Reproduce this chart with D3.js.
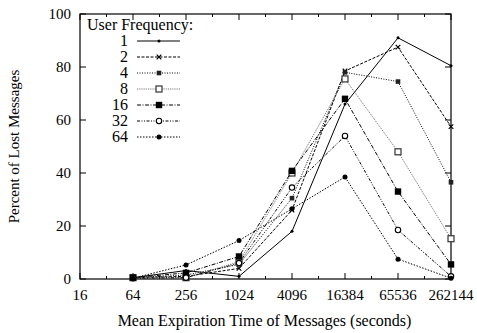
<!DOCTYPE html>
<html>
<head>
<meta charset="utf-8">
<script src="https://cdn.jsdelivr.net/npm/d3@7"></script>
<style>
  body { margin: 0; background: #fff; }
  text { font-family: "Liberation Serif", "DejaVu Serif", serif; fill: #000; }
</style>
</head>
<body>
<svg id="chart"></svg>
<script>
// expiration times (x), one value per series
const times = [64, 256, 1024, 4096, 16384, 65536, 262144];
const xTicks = [16, 64, 256, 1024, 4096, 16384, 65536, 262144];
const yTicks = [0, 20, 40, 60, 80, 100];

const freq1 = [0.5, 3.2, 1, 18, 66, 91, 80.5];
const freq2 = [0.5, 1, 4, 26, 78.5, 87.5, 57.5];
const freq4 = [0.5, 1.5, 5.5, 30.5, 78, 74.5, 36.5];
const freq8 = [0.5, 0.5, 6.5, 40, 75.5, 48, 15.2];
const freq16 = [0.5, 2.3, 8.5, 40.8, 68, 33, 5.5];
const freq32 = [0.3, 0.5, 6, 34.5, 54, 18.5, 1];
const freq64 = [0.3, 5.3, 14.5, 26.5, 38.5, 7.5, 0.3];

const labels = ['1', '2', '4', '8', '16', '32', '64'];

const series = [
  { name: labels[0], values: freq1, dash: null, stroke: '#000', marker: 'plus' },
  { name: labels[1], values: freq2, dash: '3,1.5', stroke: '#000', marker: 'x' },
  { name: labels[2], values: freq4, dash: '1,1.5', stroke: '#000', marker: 'smallsq' },
  { name: labels[3], values: freq8, dash: '1.2,1', stroke: '#777', marker: 'opensq' },
  { name: labels[4], values: freq16, dash: '4,1.5,1,1.5', stroke: '#000', marker: 'sq' },
  { name: labels[5], values: freq32, dash: '3,1.5,1,1.5,1,1.5', stroke: '#000', marker: 'opencirc' },
  { name: labels[6], values: freq64, dash: '1.5,1.5', stroke: '#000', marker: 'circ' }
];

const width = 477, height = 333;
const m = { left: 80, right: 26, top: 14, bottom: 54 };

const svg = d3.select('#chart').attr('width', width).attr('height', height);

const x = d3.scaleLog().base(2).domain([16, 262144]).range([m.left, width - m.right]);
const y = d3.scaleLinear().domain([0, 100]).range([height - m.bottom, m.top]);

const g = svg.append('g');

// frame
g.append('rect')
  .attr('x', m.left).attr('y', m.top)
  .attr('width', width - m.left - m.right)
  .attr('height', height - m.top - m.bottom)
  .attr('fill', 'none').attr('stroke', '#000').attr('stroke-width', 1.2);

// x ticks (major at labels, minor at in-between powers of two), mirrored at top
const minorX = d3.range(4, 19).map(p => Math.pow(2, p));
minorX.forEach(v => {
  const major = xTicks.includes(v);
  const len = major ? 6 : 3;
  g.append('line').attr('x1', x(v)).attr('x2', x(v))
    .attr('y1', y(0)).attr('y2', y(0) - len).attr('stroke', '#000');
  g.append('line').attr('x1', x(v)).attr('x2', x(v))
    .attr('y1', y(100)).attr('y2', y(100) + len).attr('stroke', '#000');
});
xTicks.forEach(v => {
  g.append('text').attr('x', x(v)).attr('y', y(0) + 21)
    .attr('text-anchor', 'middle').style('font-size', '15px').text(v);
});

yTicks.forEach(v => {
  g.append('line').attr('x1', m.left).attr('x2', m.left + 6)
    .attr('y1', y(v)).attr('y2', y(v)).attr('stroke', '#000');
  g.append('line').attr('x1', width - m.right).attr('x2', width - m.right - 6)
    .attr('y1', y(v)).attr('y2', y(v)).attr('stroke', '#000');
  g.append('text').attr('x', m.left - 9).attr('y', y(v) + 5)
    .attr('text-anchor', 'end').style('font-size', '15px').text(v);
});

// axis titles
svg.append('text').attr('x', (m.left + width - m.right) / 2 - 1).attr('y', 326)
  .attr('text-anchor', 'middle').style('font-size', '16px')
  .text('Mean Expiration Time of Messages (seconds)');
svg.append('text')
  .attr('transform', `translate(19,${(m.top + height - m.bottom) / 2}) rotate(-90)`)
  .attr('text-anchor', 'middle').style('font-size', '15px')
  .text('Percent of Lost Messages');

function drawMarker(sel, type, cx, cy) {
  if (type === 'plus') {
    sel.append('circle').attr('cx', cx).attr('cy', cy).attr('r', 1.5).attr('fill', '#000');
  } else if (type === 'x') {
    sel.append('path').attr('d', `M${cx-2.3},${cy-2.3}L${cx+2.3},${cy+2.3}M${cx-2.3},${cy+2.3}L${cx+2.3},${cy-2.3}`)
      .attr('stroke', '#000').attr('stroke-width', 1.2);
  } else if (type === 'smallsq') {
    sel.append('rect').attr('x', cx - 2.3).attr('y', cy - 2.3).attr('width', 4.6).attr('height', 4.6).attr('fill', '#222');
  } else if (type === 'opensq') {
    sel.append('rect').attr('x', cx - 3).attr('y', cy - 3).attr('width', 6).attr('height', 6)
      .attr('fill', '#fff').attr('stroke', '#333').attr('stroke-width', 1.2);
  } else if (type === 'sq') {
    sel.append('rect').attr('x', cx - 3.2).attr('y', cy - 3.2).attr('width', 6.4).attr('height', 6.4).attr('fill', '#000');
  } else if (type === 'opencirc') {
    sel.append('circle').attr('cx', cx).attr('cy', cy).attr('r', 2.7)
      .attr('fill', '#fff').attr('stroke', '#000').attr('stroke-width', 1.1);
  } else if (type === 'circ') {
    sel.append('circle').attr('cx', cx).attr('cy', cy).attr('r', 2.5).attr('fill', '#000');
  }
}

const line = d3.line().x((d, i) => x(times[i])).y(d => y(d));

series.forEach(s => {
  const sg = g.append('g');
  sg.append('path').datum(s.values).attr('d', line)
    .attr('fill', 'none').attr('stroke', s.stroke).attr('stroke-width', 1)
    .attr('stroke-dasharray', s.dash);
  s.values.forEach((v, i) => drawMarker(sg, s.marker, x(times[i]), y(v)));
});

// legend
const lg = svg.append('g');
lg.append('text').attr('x', 87).attr('y', 30).style('font-size', '16px').text('User Frequency:');
series.forEach((s, i) => {
  const ly = 41 + i * 16;
  lg.append('text').attr('x', 128).attr('y', ly + 5).attr('text-anchor', 'end')
    .style('font-size', '16px').text(s.name);
  lg.append('line').attr('x1', 137).attr('x2', 180).attr('y1', ly).attr('y2', ly)
    .attr('stroke', s.stroke).attr('stroke-width', 1).attr('stroke-dasharray', s.dash);
  drawMarker(lg, s.marker, 159, ly);
});
</script>
</body>
</html>
